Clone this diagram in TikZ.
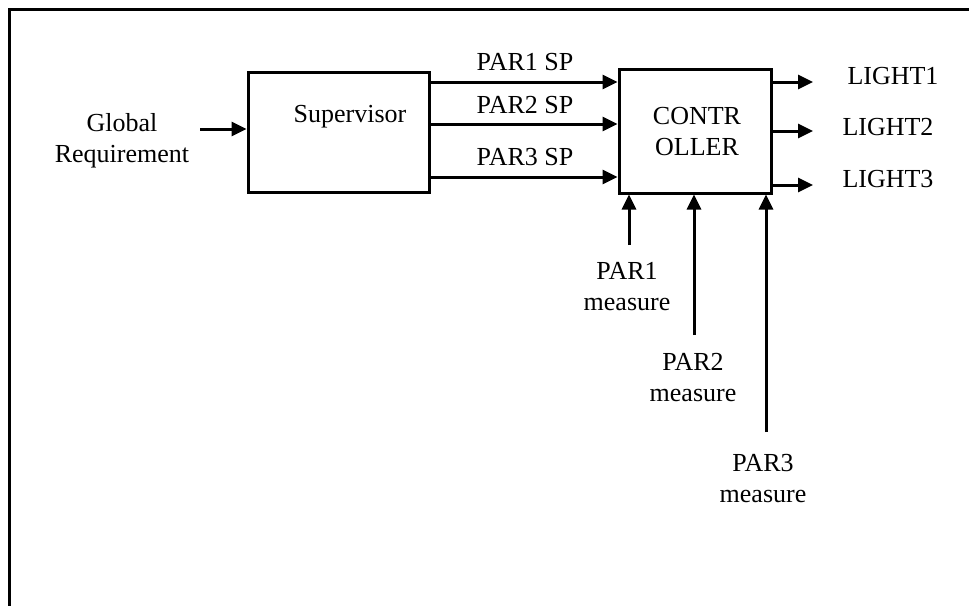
\documentclass[tikz,border=0pt]{standalone}
\usepackage{fontspec}
\setmainfont{Liberation Serif}
\usetikzlibrary{arrows.meta}
\begin{document}
\begin{tikzpicture}[x=1pt,y=-1pt,
  every node/.style={font=\fontsize{26}{31}\selectfont, inner sep=0pt, align=center},
  blk/.style={draw, line width=3pt},
  arr/.style={line width=3pt, -{Triangle[length=15pt,width=14pt]}},
  frameline/.style={line width=3pt}]
\useasboundingbox (0,0) rectangle (969,605);
\clip (0,0) rectangle (969,605);
\fill[white] (0,0) rectangle (969,605);
\draw[frameline] (9,620) -- (9,9) -- (980,9);
% blocks
\node[blk, minimum width=181pt, minimum height=120pt] (sup) at (338.5,132) {};
\node (suptxt) at (350,117) {Supervisor};
\node[blk, minimum width=152pt, minimum height=124pt] (ctl) at (695,131) {};
\node (ctltxt) at (697,132) {CONTR\\OLLER};
% input
\node (glob) at (122,141) {Global\\Requirement};
\coordinate (gin) at (200,129);
\draw[arr] (gin) -- (sup.west |- gin);
% setpoints
\coordinate (s1) at (0,82);
\coordinate (s2) at (0,124);
\coordinate (s3) at (0,177);
\draw[arr] (sup.east |- s1) -- (ctl.west |- s1);
\draw[arr] (sup.east |- s2) -- (ctl.west |- s2);
\draw[arr] (sup.east |- s3) -- (ctl.west |- s3);
\node (l1) at (525,62) {PAR1 SP};
\node (l2) at (525,105) {PAR2 SP};
\node (l3) at (525,157) {PAR3 SP};
% outputs
\coordinate (o1) at (813,82);
\coordinate (o2) at (813,131);
\coordinate (o3) at (813,185);
\draw[arr] (ctl.east |- o1) -- (o1);
\draw[arr] (ctl.east |- o2) -- (o2);
\draw[arr] (ctl.east |- o3) -- (o3);
\node (li1) at (893,76) {LIGHT1};
\node (li2) at (888,127) {LIGHT2};
\node (li3) at (888,179) {LIGHT3};
% measures
\coordinate (m1) at (629,245);
\coordinate (m2) at (694,335);
\coordinate (m3) at (766,432);
\draw[arr] (m1) -- (ctl.south -| m1);
\draw[arr] (m2) -- (ctl.south -| m2);
\draw[arr] (m3) -- (ctl.south -| m3);
\node (pm1) at (627,287) {PAR1\\measure};
\node (pm2) at (693,378) {PAR2\\measure};
\node (pm3) at (763,479) {PAR3\\measure};
\end{tikzpicture}
\end{document}
